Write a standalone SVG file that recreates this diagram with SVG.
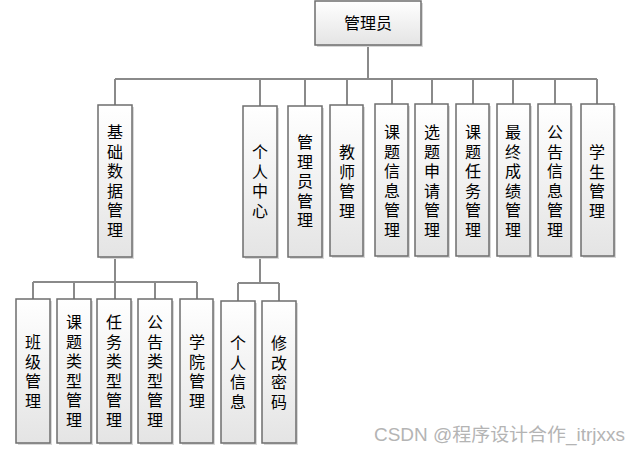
<svg xmlns="http://www.w3.org/2000/svg" width="640" height="453" viewBox="0 0 640 453">
<defs>
<linearGradient id="g" x1="0" y1="0" x2="0" y2="1">
<stop offset="0" stop-color="#ffffff"/>
<stop offset="1" stop-color="#e4e4e4"/>
</linearGradient>
<style>
.box{fill:url(#g);stroke:#6e6e6e;stroke-width:1.5}
.sh{fill:#d8d8d8}
.t{font-family:"Noto Sans CJK SC","Noto Sans",sans-serif;font-size:16px;fill:#000;text-anchor:middle}
.c{fill:none;stroke:#8a8a8a;stroke-width:2}
.wm{font-family:"Liberation Sans","Noto Sans CJK SC",sans-serif;font-size:18px;fill:#b4b4b4}
</style>
</defs>
<rect width="640" height="453" fill="#ffffff"/>
<g id="connectors">
<path class="c" d="M368 45V79M115 79H597M115 79V105M260 79V106M305 79V106M347 79V105M392 79V104M432 79V104M473 79V104M513 79V104M555 79V104M597 79V104"/>
<path class="c" d="M115 257V282M33 282H197M33 282V299M74 282V299M115 282V299M155 282V299M197 282V299"/>
<path class="c" d="M260 257V283M238 283H279M238 283V301M279 283V301"/>
</g>
<g id="n-root"><rect class="sh" x="317" y="3" width="106" height="44"/><rect class="box" x="315" y="1" width="106" height="44"/><text class="t" x="368" y="29">管理员</text></g>
<g id="n-jichu"><rect class="sh" x="100" y="107" width="34" height="152"/><rect class="box" x="98" y="105" width="34" height="152"/><text class="t" y="138"><tspan x="115">基</tspan><tspan x="115" dy="19.5">础</tspan><tspan x="115" dy="19.5">数</tspan><tspan x="115" dy="19.5">据</tspan><tspan x="115" dy="19.5">管</tspan><tspan x="115" dy="19.5">理</tspan></text></g>
<g id="n-geren"><rect class="sh" x="245" y="108" width="34" height="151"/><rect class="box" x="243" y="106" width="34" height="151"/><text class="t" y="158"><tspan x="260">个</tspan><tspan x="260" dy="19.5">人</tspan><tspan x="260" dy="19.5">中</tspan><tspan x="260" dy="19.5">心</tspan></text></g>
<g id="n-admin"><rect class="sh" x="290" y="108" width="34" height="151"/><rect class="box" x="288" y="106" width="34" height="151"/><text class="t" y="148"><tspan x="305">管</tspan><tspan x="305" dy="19.5">理</tspan><tspan x="305" dy="19.5">员</tspan><tspan x="305" dy="19.5">管</tspan><tspan x="305" dy="19.5">理</tspan></text></g>
<g id="n-teacher"><rect class="sh" x="332" y="107" width="33" height="151"/><rect class="box" x="330" y="105" width="33" height="151"/><text class="t" y="158"><tspan x="347">教</tspan><tspan x="347" dy="19.5">师</tspan><tspan x="347" dy="19.5">管</tspan><tspan x="347" dy="19.5">理</tspan></text></g>
<g id="n-ktxx"><rect class="sh" x="377" y="106" width="33" height="152"/><rect class="box" x="375" y="104" width="33" height="152"/><text class="t" y="138"><tspan x="392">课</tspan><tspan x="392" dy="19.5">题</tspan><tspan x="392" dy="19.5">信</tspan><tspan x="392" dy="19.5">息</tspan><tspan x="392" dy="19.5">管</tspan><tspan x="392" dy="19.5">理</tspan></text></g>
<g id="n-xtsq"><rect class="sh" x="417" y="106" width="33" height="152"/><rect class="box" x="415" y="104" width="33" height="152"/><text class="t" y="138"><tspan x="432">选</tspan><tspan x="432" dy="19.5">题</tspan><tspan x="432" dy="19.5">申</tspan><tspan x="432" dy="19.5">请</tspan><tspan x="432" dy="19.5">管</tspan><tspan x="432" dy="19.5">理</tspan></text></g>
<g id="n-ktrw"><rect class="sh" x="458" y="106" width="33" height="152"/><rect class="box" x="456" y="104" width="33" height="152"/><text class="t" y="138"><tspan x="473">课</tspan><tspan x="473" dy="19.5">题</tspan><tspan x="473" dy="19.5">任</tspan><tspan x="473" dy="19.5">务</tspan><tspan x="473" dy="19.5">管</tspan><tspan x="473" dy="19.5">理</tspan></text></g>
<g id="n-zzcj"><rect class="sh" x="499" y="106" width="33" height="152"/><rect class="box" x="497" y="104" width="33" height="152"/><text class="t" y="138"><tspan x="513">最</tspan><tspan x="513" dy="19.5">终</tspan><tspan x="513" dy="19.5">成</tspan><tspan x="513" dy="19.5">绩</tspan><tspan x="513" dy="19.5">管</tspan><tspan x="513" dy="19.5">理</tspan></text></g>
<g id="n-ggxx"><rect class="sh" x="540" y="106" width="33" height="152"/><rect class="box" x="538" y="104" width="33" height="152"/><text class="t" y="138"><tspan x="555">公</tspan><tspan x="555" dy="19.5">告</tspan><tspan x="555" dy="19.5">信</tspan><tspan x="555" dy="19.5">息</tspan><tspan x="555" dy="19.5">管</tspan><tspan x="555" dy="19.5">理</tspan></text></g>
<g id="n-student"><rect class="sh" x="583" y="106" width="33" height="152"/><rect class="box" x="581" y="104" width="33" height="152"/><text class="t" y="158"><tspan x="597">学</tspan><tspan x="597" dy="19.5">生</tspan><tspan x="597" dy="19.5">管</tspan><tspan x="597" dy="19.5">理</tspan></text></g>
<g id="n-banji"><rect class="sh" x="18" y="301" width="34" height="144"/><rect class="box" x="16" y="299" width="34" height="144"/><text class="t" y="348"><tspan x="33">班</tspan><tspan x="33" dy="19.5">级</tspan><tspan x="33" dy="19.5">管</tspan><tspan x="33" dy="19.5">理</tspan></text></g>
<g id="n-ktlx"><rect class="sh" x="59" y="301" width="34" height="144"/><rect class="box" x="57" y="299" width="34" height="144"/><text class="t" y="328"><tspan x="74">课</tspan><tspan x="74" dy="19.5">题</tspan><tspan x="74" dy="19.5">类</tspan><tspan x="74" dy="19.5">型</tspan><tspan x="74" dy="19.5">管</tspan><tspan x="74" dy="19.5">理</tspan></text></g>
<g id="n-rwlx"><rect class="sh" x="99" y="301" width="34" height="144"/><rect class="box" x="97" y="299" width="34" height="144"/><text class="t" y="328"><tspan x="114">任</tspan><tspan x="114" dy="19.5">务</tspan><tspan x="114" dy="19.5">类</tspan><tspan x="114" dy="19.5">型</tspan><tspan x="114" dy="19.5">管</tspan><tspan x="114" dy="19.5">理</tspan></text></g>
<g id="n-gglx"><rect class="sh" x="140" y="301" width="34" height="144"/><rect class="box" x="138" y="299" width="34" height="144"/><text class="t" y="328"><tspan x="155">公</tspan><tspan x="155" dy="19.5">告</tspan><tspan x="155" dy="19.5">类</tspan><tspan x="155" dy="19.5">型</tspan><tspan x="155" dy="19.5">管</tspan><tspan x="155" dy="19.5">理</tspan></text></g>
<g id="n-xueyuan"><rect class="sh" x="182" y="301" width="33" height="144"/><rect class="box" x="180" y="299" width="33" height="144"/><text class="t" y="348"><tspan x="197">学</tspan><tspan x="197" dy="19.5">院</tspan><tspan x="197" dy="19.5">管</tspan><tspan x="197" dy="19.5">理</tspan></text></g>
<g id="n-grxx"><rect class="sh" x="223" y="303" width="34" height="142"/><rect class="box" x="221" y="301" width="34" height="142"/><text class="t" y="349"><tspan x="238">个</tspan><tspan x="238" dy="19.5">人</tspan><tspan x="238" dy="19.5">信</tspan><tspan x="238" dy="19.5">息</tspan></text></g>
<g id="n-xgmm"><rect class="sh" x="264" y="303" width="34" height="142"/><rect class="box" x="262" y="301" width="34" height="142"/><text class="t" y="349"><tspan x="279">修</tspan><tspan x="279" dy="19.5">改</tspan><tspan x="279" dy="19.5">密</tspan><tspan x="279" dy="19.5">码</tspan></text></g>
<text class="wm" x="374" y="441" textLength="251" lengthAdjust="spacingAndGlyphs">CSDN @程序设计合作_itrjxxs</text>
</svg>
